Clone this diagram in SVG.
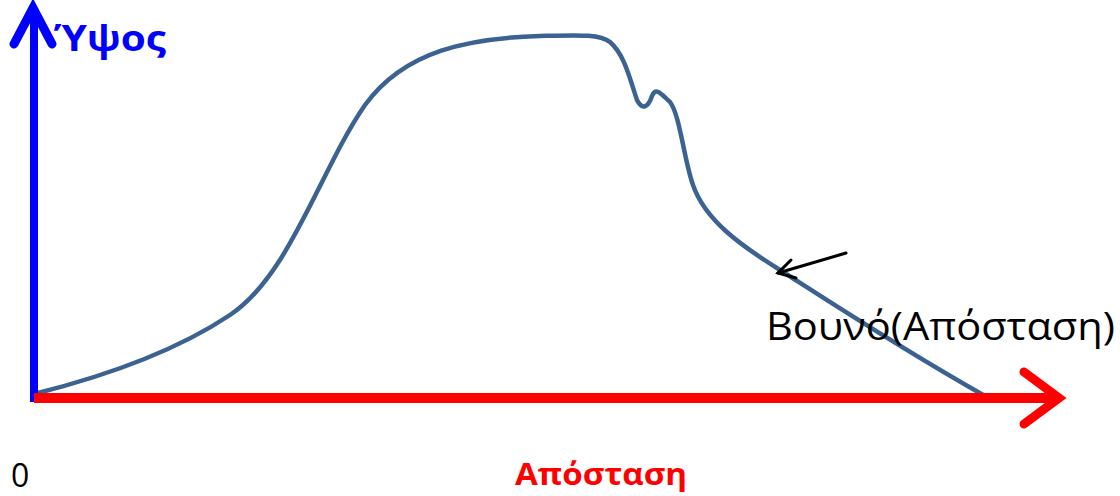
<svg xmlns="http://www.w3.org/2000/svg" width="1120" height="496" viewBox="0 0 1120 496">
<style>
.lbl{font-family:"Open Sans","Noto Sans","DejaVu Sans",sans-serif}
.ax{fill:none;stroke-width:9;stroke-linecap:round;stroke-linejoin:miter}
</style>
<rect width="1120" height="496" fill="#fff"/>
<g id="connectors">
<path id="curve" d="M34,394 C90,380 170,355 230,315 C290,275 320,170 365,105 C405,50 470,38 540,36 C580,35 600,34 610,42 C625,55 630,80 637,100 C642,110 648,108 652,96 C656,86 662,95 670,102 C680,115 684,160 693,185 C705,220 740,245 780,270 C830,302 900,348 985,396" fill="none" stroke="#3B6290" stroke-width="4.5" stroke-linecap="round"/>
<line id="y-axis" x1="34" y1="402" x2="34" y2="10" stroke="#0000FF" stroke-width="8"/>
<path d="M14,44 L33,8 L52,44" class="ax" stroke="#0000FF"/>
<line id="x-axis" x1="34" y1="398" x2="1058" y2="398" stroke="#FF0000" stroke-width="10"/>
<path d="M1024,372 L1059,398 L1024,424" class="ax" stroke="#FF0000"/>
<line x1="846" y1="253" x2="778" y2="273" stroke="#000" stroke-width="3" stroke-linecap="round"/>
<path d="M791,260 L778,273 L796,278" fill="none" stroke="#000" stroke-width="3" stroke-linecap="round"/>
</g>
<g id="label-height"><text class="lbl" x="54" y="51" font-size="36" font-weight="bold" fill="#0000FF" textLength="112" lengthAdjust="spacingAndGlyphs">Ύψος</text></g>
<g id="label-mountain"><text class="lbl" x="766" y="340" font-size="38" fill="#000" textLength="349" lengthAdjust="spacingAndGlyphs">Βουνό(Απόσταση)</text></g>
<g id="label-zero"><text class="lbl" x="11" y="487" font-size="32" fill="#000">0</text></g>
<g id="label-distance"><text class="lbl" x="515" y="485" font-size="30" font-weight="bold" fill="#FF0000" textLength="172" lengthAdjust="spacingAndGlyphs">Απόσταση</text></g>
</svg>
